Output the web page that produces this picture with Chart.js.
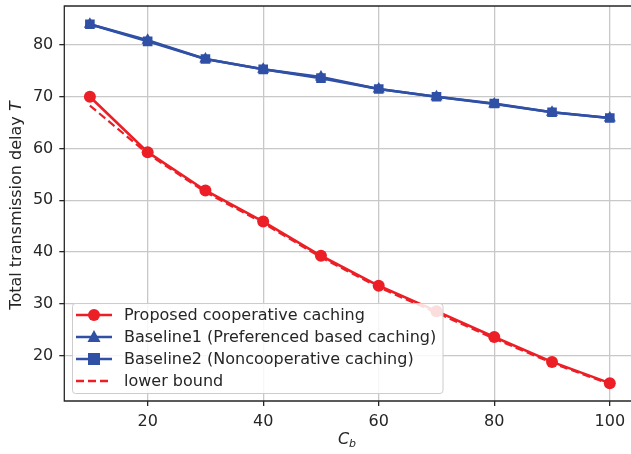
<!DOCTYPE html>
<html>
<head>
  <title>Transmission delay vs C_b</title>
  <script src="https://cdn.jsdelivr.net/npm/chart.js"></script>
  <style>
    body { margin: 0; background: #fff; }
    #wrap { width: 631px; height: 454px; position: relative; }
  </style>
</head>
<body>
  <div id="wrap"><canvas id="delayChart" width="631" height="454"></canvas></div>
  <script>
    // values
    const cb = [10, 20, 30, 40, 50, 60, 70, 80, 90, 100];
    const proposed = [70.0, 59.3, 51.9, 45.9, 39.3, 33.5, 28.6, 23.6, 18.8, 14.7];
    const baseline1 = [84.0, 80.9, 77.3, 75.3, 73.8, 71.5, 70.0, 68.6, 67.0, 65.9];
    const baseline2 = [84.0, 80.7, 77.3, 75.3, 73.6, 71.5, 70.0, 68.7, 67.0, 65.9];
    const lowerBound = [68.3, 59.0, 51.6, 45.6, 39.0, 33.2, 28.3, 23.3, 18.6, 14.5];
    const xTicks = [20, 40, 60, 80, 100];
    const yTicks = [20, 30, 40, 50, 60, 70, 80];
    const legendLabels = [
      "Proposed cooperative caching",
      "Baseline1 (Preferenced based caching)",
      "Baseline2 (Noncooperative caching)",
      "lower bound"
    ];

    const RED = "#ec1f27";
    const BLUE = "#3050a6";
    const FONT = "'DejaVu Sans', sans-serif";
    const FS = 16;
    const TEXT = "#262626";

    const pts = ys => cb.map((x, i) => ({ x: x, y: ys[i] }));

    function marker(ctx, style, x, y, color) {
      ctx.fillStyle = color;
      ctx.beginPath();
      if (style === "circle") {
        ctx.arc(x, y, 6, 0, Math.PI * 2);
      } else if (style === "triangle") {
        ctx.moveTo(x, y - 7);
        ctx.lineTo(x + 6.5, y + 5);
        ctx.lineTo(x - 6.5, y + 5);
        ctx.closePath();
      } else if (style === "rect") {
        ctx.rect(x - 6, y - 6, 12, 12);
      }
      ctx.fill();
    }

    const extras = {
      id: "extras",
      afterDraw(chart) {
        const ctx = chart.ctx;
        const a = chart.chartArea;
        ctx.save();

        // frame: left, top, bottom (right spine falls just outside the picture)
        ctx.strokeStyle = "#262626";
        ctx.lineWidth = 1.3;
        ctx.beginPath();
        ctx.moveTo(a.right + 2, a.top);
        ctx.lineTo(a.left, a.top);
        ctx.lineTo(a.left, a.bottom);
        ctx.lineTo(a.right + 2, a.bottom);
        ctx.stroke();

        // legend box
        const bx = 72.5, by = 303.5, bw = 370.5, bh = 90;
        ctx.fillStyle = "rgba(255,255,255,0.85)";
        ctx.strokeStyle = "#cccccc";
        ctx.lineWidth = 1;
        ctx.beginPath();
        ctx.roundRect(bx, by, bw, bh, 3);
        ctx.fill();
        ctx.stroke();

        const items = [
          { color: RED, marker: "circle", dash: [] },
          { color: BLUE, marker: "triangle", dash: [] },
          { color: BLUE, marker: "rect", dash: [] },
          { color: RED, marker: null, dash: [8, 4] }
        ];
        ctx.font = FS + "px " + FONT;
        ctx.textBaseline = "middle";
        items.forEach((it, i) => {
          const y = 315 + i * 22;
          ctx.strokeStyle = it.color;
          ctx.lineWidth = 2.6;
          ctx.setLineDash(it.dash);
          ctx.beginPath();
          ctx.moveTo(76, y);
          ctx.lineTo(112, y);
          ctx.stroke();
          ctx.setLineDash([]);
          if (it.marker) marker(ctx, it.marker, 94, y, it.color);
          ctx.fillStyle = TEXT;
          ctx.textAlign = "left";
          ctx.fillText(legendLabels[i], 124, y + 1);
        });

        // y axis title with italic T
        ctx.fillStyle = TEXT;
        ctx.translate(17, (a.top + a.bottom) / 2 + 2);
        ctx.rotate(-Math.PI / 2);
        const part1 = "Total transmission delay ";
        ctx.font = FS + "px " + FONT;
        const w1 = ctx.measureText(part1).width;
        ctx.font = "italic " + FS + "px " + FONT;
        const w2 = ctx.measureText("T").width;
        const sx = -(w1 + w2) / 2;
        ctx.textAlign = "left";
        ctx.textBaseline = "middle";
        ctx.font = FS + "px " + FONT;
        ctx.fillText(part1, sx, 0);
        ctx.font = "italic " + FS + "px " + FONT;
        ctx.fillText("T", sx + w1, 0);
        ctx.setTransform(1, 0, 0, 1, 0, 0);

        // x axis title C_b
        const cx = 347;
        ctx.font = "italic " + FS + "px " + FONT;
        const wc = ctx.measureText("C").width;
        ctx.font = "italic 11px " + FONT;
        const wb = ctx.measureText("b").width;
        const tx = cx - (wc + wb) / 2;
        ctx.textBaseline = "alphabetic";
        ctx.font = "italic " + FS + "px " + FONT;
        ctx.fillText("C", tx, 444);
        ctx.font = "italic 11px " + FONT;
        ctx.fillText("b", tx + wc, 447);
        ctx.restore();
      }
    };

    new Chart(document.getElementById("delayChart"), {
      type: "line",
      data: {
        datasets: [
          {
            label: legendLabels[0], data: pts(proposed),
            borderColor: RED, backgroundColor: RED, borderWidth: 2.6,
            pointStyle: "circle", pointRadius: 6, pointBorderWidth: 0, order: 3
          },
          {
            label: legendLabels[1], data: pts(baseline1),
            borderColor: BLUE, backgroundColor: BLUE, borderWidth: 2.6,
            pointStyle: "triangle", pointRadius: 7, pointBorderWidth: 0, order: 2
          },
          {
            label: legendLabels[2], data: pts(baseline2),
            borderColor: BLUE, backgroundColor: BLUE, borderWidth: 2.6,
            pointStyle: "rect", pointRadius: 6.8, pointBorderWidth: 0, order: 1
          },
          {
            label: legendLabels[3], data: pts(lowerBound),
            borderColor: RED, backgroundColor: RED, borderWidth: 2.2,
            borderDash: [8, 4], pointRadius: 0, order: 0
          }
        ]
      },
      options: {
        responsive: false,
        animation: false,
        layout: { autoPadding: false, padding: { top: 6, right: 0, left: 0, bottom: 0 } },
        plugins: { legend: { display: false }, tooltip: { enabled: false } },
        scales: {
          x: {
            type: "linear", min: 5.57, max: 103.67,
            afterBuildTicks: s => { s.ticks = xTicks.map(v => ({ value: v })); },
            afterFit: s => { s.height = 53; s.paddingLeft = 0; s.paddingRight = 0; },
            grid: { color: "#c8c8c8", lineWidth: 1.3, tickColor: "#262626", tickLength: 5 },
            border: { display: false },
            ticks: { color: TEXT, font: { family: FONT, size: FS }, padding: 6, maxRotation: 0 }
          },
          y: {
            min: 11.25, max: 87.53,
            afterBuildTicks: s => { s.ticks = yTicks.map(v => ({ value: v })); },
            afterFit: s => { s.width = 64.3; s.paddingTop = 0; s.paddingBottom = 0; },
            grid: { color: "#c8c8c8", lineWidth: 1.3, tickColor: "#262626", tickLength: 5 },
            border: { display: false },
            ticks: { color: TEXT, font: { family: FONT, size: FS }, padding: 6 }
          }
        }
      },
      plugins: [extras]
    });
  </script>
</body>
</html>
